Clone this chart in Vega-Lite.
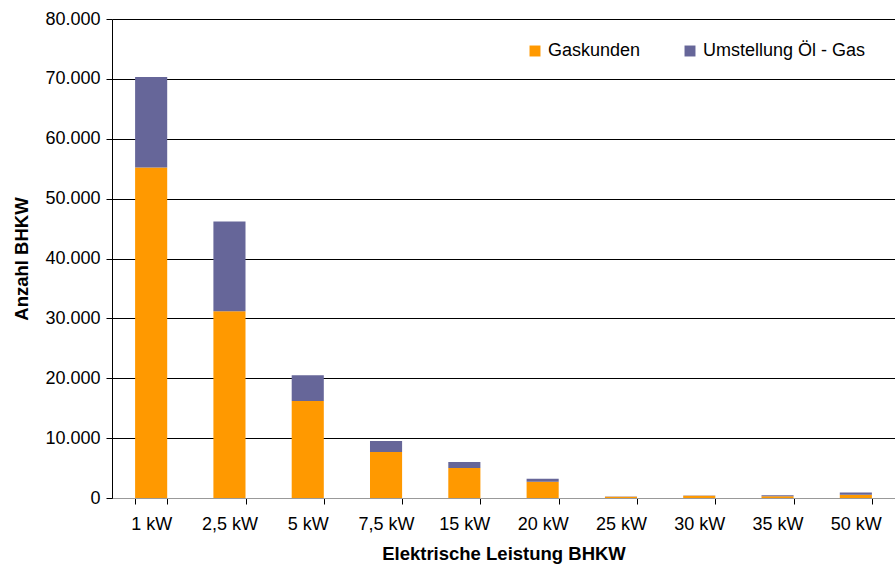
{
  "$schema": "https://vega.github.io/schema/vega-lite/v6.json",
  "width": 895,
  "height": 566,
  "autosize": {"type": "fit", "contains": "padding"},
  "padding": {"left": 12, "top": 10, "right": 0, "bottom": 3},
  "config": {
    "locale": {"number": {"decimal": ",", "thousands": ".", "grouping": [3], "currency": ["", " €"]}},
    "font": "Liberation Sans",
    "view": {"stroke": null},
    "axis": {
      "labelFont": "Liberation Sans",
      "titleFont": "Liberation Sans",
      "labelFontSize": 18,
      "titleFontSize": 18.5,
      "titleFontWeight": "bold",
      "labelColor": "#000000",
      "titleColor": "#000000",
      "domainColor": "#000000",
      "tickColor": "#000000",
      "gridColor": "#000000",
      "gridOpacity": 1,
      "gridWidth": 1
    }
  },
  "data": {
    "values": [
      {"kw": "1 kW", "serie": "Gaskunden", "o": 1, "wert": 55200},
      {"kw": "1 kW", "serie": "Umstellung Öl - Gas", "o": 2, "wert": 15100},
      {"kw": "2,5 kW", "serie": "Gaskunden", "o": 1, "wert": 31200},
      {"kw": "2,5 kW", "serie": "Umstellung Öl - Gas", "o": 2, "wert": 15000},
      {"kw": "5 kW", "serie": "Gaskunden", "o": 1, "wert": 16200},
      {"kw": "5 kW", "serie": "Umstellung Öl - Gas", "o": 2, "wert": 4300},
      {"kw": "7,5 kW", "serie": "Gaskunden", "o": 1, "wert": 7700},
      {"kw": "7,5 kW", "serie": "Umstellung Öl - Gas", "o": 2, "wert": 1800},
      {"kw": "15 kW", "serie": "Gaskunden", "o": 1, "wert": 5000},
      {"kw": "15 kW", "serie": "Umstellung Öl - Gas", "o": 2, "wert": 1000},
      {"kw": "20 kW", "serie": "Gaskunden", "o": 1, "wert": 2700},
      {"kw": "20 kW", "serie": "Umstellung Öl - Gas", "o": 2, "wert": 500},
      {"kw": "25 kW", "serie": "Gaskunden", "o": 1, "wert": 220},
      {"kw": "25 kW", "serie": "Umstellung Öl - Gas", "o": 2, "wert": 20},
      {"kw": "30 kW", "serie": "Gaskunden", "o": 1, "wert": 380},
      {"kw": "30 kW", "serie": "Umstellung Öl - Gas", "o": 2, "wert": 40},
      {"kw": "35 kW", "serie": "Gaskunden", "o": 1, "wert": 300},
      {"kw": "35 kW", "serie": "Umstellung Öl - Gas", "o": 2, "wert": 150},
      {"kw": "50 kW", "serie": "Gaskunden", "o": 1, "wert": 550},
      {"kw": "50 kW", "serie": "Umstellung Öl - Gas", "o": 2, "wert": 350}
    ]
  },
  "mark": {"type": "bar"},
  "encoding": {
    "x": {
      "field": "kw",
      "type": "nominal",
      "sort": null,
      "scale": {"paddingInner": 0.59, "paddingOuter": 0.295},
      "axis": {
        "title": "Elektrische Leistung BHKW",
        "labelAngle": 0,
        "tickBand": "extent",
        "tickSize": 6,
        "labelPadding": 11,
        "titlePadding": 11,
        "domainColor": "#999999"
      }
    },
    "y": {
      "field": "wert",
      "type": "quantitative",
      "stack": "zero",
      "scale": {"domain": [0, 80000], "nice": false},
      "axis": {
        "title": "Anzahl BHKW",
        "values": [0, 10000, 20000, 30000, 40000, 50000, 60000, 70000, 80000],
        "format": ",d",
        "tickSize": 6,
        "labelPadding": 6,
        "titlePadding": 13
      }
    },
    "color": {
      "field": "serie",
      "type": "nominal",
      "scale": {"domain": ["Gaskunden", "Umstellung Öl - Gas"], "range": ["#FF9900", "#666699"]},
      "legend": {
        "title": null,
        "orient": "none",
        "direction": "horizontal",
        "legendX": 414,
        "legendY": 23,
        "symbolType": "square",
        "symbolSize": 120,
        "symbolStrokeWidth": 0,
        "labelFontSize": 18,
        "labelFont": "Liberation Sans",
        "labelColor": "#000000",
        "labelLimit": 400,
        "columnPadding": 40,
        "symbolOpacity": 1
      }
    },
    "order": {"field": "o", "type": "quantitative"}
  }
}
